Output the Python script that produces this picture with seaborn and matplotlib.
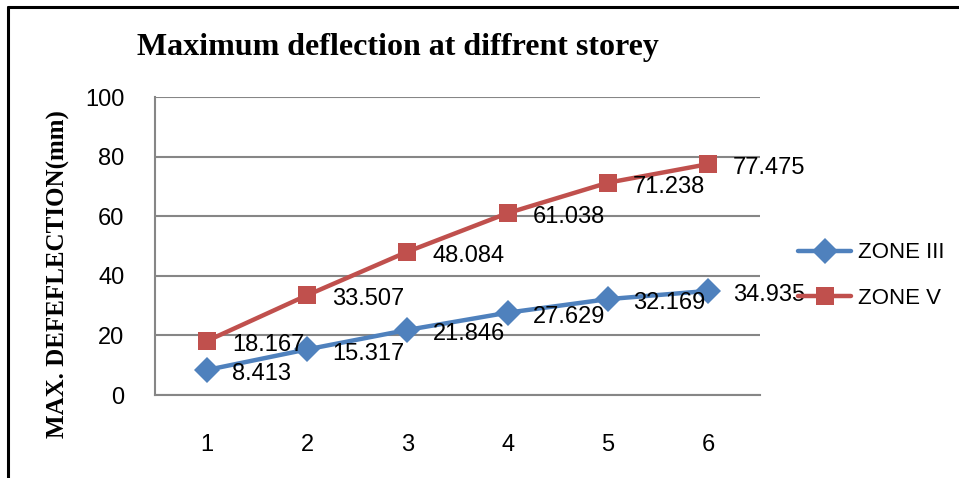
import pandas as pd
import numpy as np
import matplotlib.pyplot as plt
import matplotlib.lines as mlines
import seaborn as sns

storey = [1, 2, 3, 4, 5, 6]
zone_iii = [8.413, 15.317, 21.846, 27.629, 32.169, 34.935]
zone_v = [18.167, 33.507, 48.084, 61.038, 71.238, 77.475]
yticks = [0, 20, 40, 60, 80, 100]

df = pd.DataFrame({
    "Storey": storey * 2,
    "Deflection": zone_iii + zone_v,
    "Zone": ["ZONE III"] * 6 + ["ZONE V"] * 6,
})

sns.set_style("white")
plt.rcParams['font.family'] = ['Liberation Sans Narrow', 'Liberation Sans', 'DejaVu Sans']
plt.rcParams.update({"text.color": "black", "axes.labelcolor": "black",
                     "xtick.color": "black", "ytick.color": "black"})

fig = plt.figure(figsize=(9.59, 4.78), dpi=100)
ax = fig.add_axes([0.1616, 0.1736, 0.6309, 0.6234])

pal = {"ZONE III": "#4F81BD", "ZONE V": "#C0504D"}
sns.lineplot(data=df, x="Storey", y="Deflection", hue="Zone", style="Zone",
             palette=pal, markers={"ZONE III": "D", "ZONE V": "s"}, dashes=False,
             linewidth=3.2, markersize=13.5, markeredgewidth=0, ax=ax)

# data labels to the right of each point
for vals in [zone_iii, zone_v]:
    for x, y in zip(storey, vals):
        ax.annotate(f"{y}", (x, y), xytext=(18, -3), textcoords="offset points",
                    ha="left", va="center", fontsize=17)

ax.set_xlim(0.48, 6.52)
ax.set_ylim(0, 100)
ax.set_yticks(yticks)
ax.set_xticks(storey)
ax.yaxis.grid(True, color="#868686", linewidth=1.5)
ax.xaxis.grid(False)
for s in ["top", "right"]:
    ax.spines[s].set_visible(False)
for s in ["left", "bottom"]:
    ax.spines[s].set_color("#868686")
    ax.spines[s].set_linewidth(1.5)
ax.tick_params(axis="both", length=0, labelsize=17)
ax.tick_params(axis="x", pad=28)
ax.tick_params(axis="y", pad=22)
ax.set_xlabel("")
ax.set_ylabel("MAX. DEFEFLECTION(mm)", family="Liberation Serif", fontweight="bold",
              fontsize=18, va="center")
ax.yaxis.set_label_coords(58 / 959, 1 - 274 / 478, transform=fig.transFigure)

fig.text(0.1428, 0.90, "Maximum deflection at diffrent storey", family="Liberation Serif",
         fontweight="bold", fontsize=23, ha="left", va="center")

handles, labels = ax.get_legend_handles_labels()
ax.legend(handles, labels, loc="center left", bbox_to_anchor=(0.832, 0.4236),
          bbox_transform=fig.transFigure, frameon=False, borderpad=0, borderaxespad=0,
          fontsize=16, handlelength=2.4, handletextpad=0.3, labelspacing=1.1)

fig.add_artist(mlines.Line2D([8 / 959, 8 / 959], [0, 1 - 7 / 478], color="black", linewidth=2.2,
                             transform=fig.transFigure))
fig.add_artist(mlines.Line2D([8 / 959, 1], [1 - 7 / 478, 1 - 7 / 478], color="black", linewidth=2.2,
                             transform=fig.transFigure))

fig.savefig("out.png", dpi=100)
